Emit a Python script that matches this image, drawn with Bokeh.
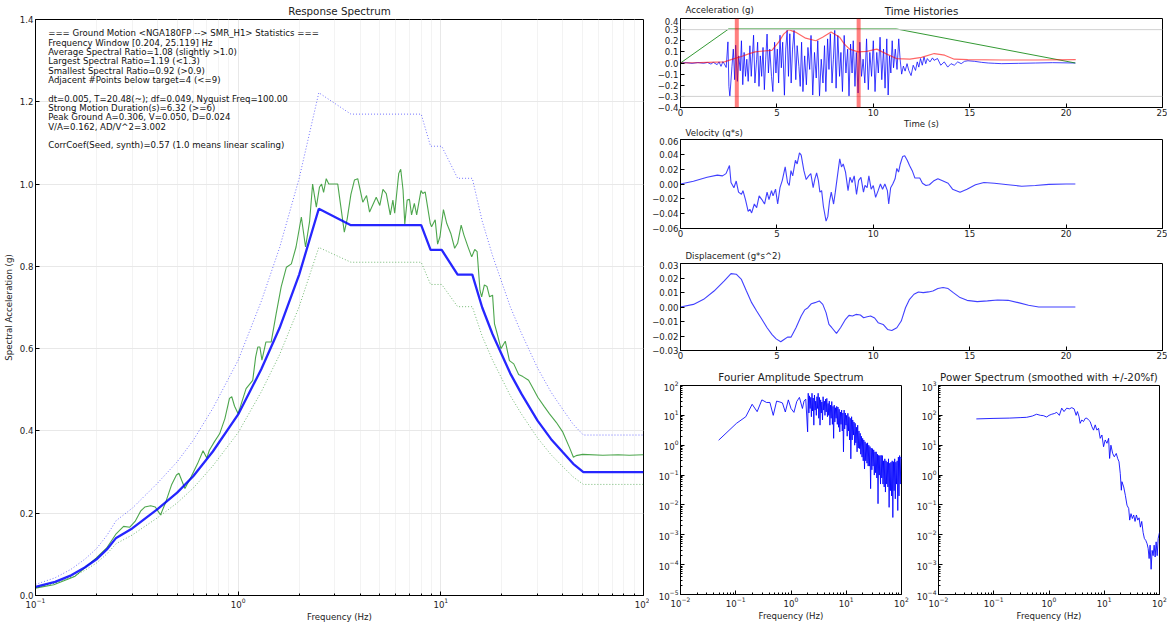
from bokeh.plotting import figure
from bokeh.layouts import row, column
from bokeh.models import Label, Span, FixedTicker, CustomJSTickFormatter, Range1d, LogTickFormatter
from bokeh.embed import file_html
from bokeh.resources import INLINE

FONT = "DejaVu Sans"
TXT = "8.6px"
TTL = "10.3px"

# ---------------- Response spectrum data ----------------
tgt_f = [0.1, 0.125, 0.15, 0.175, 0.2, 0.225, 0.25, 0.3, 0.4, 0.5, 0.6, 0.75, 1.0, 1.3, 1.6, 2.0, 2.5,
         3.6, 8.0, 8.9, 10.1, 12.1, 14.3, 16.0, 18.0, 20.0, 22.0, 25.0, 30.0, 35.0, 40.0, 45.0, 50.5, 100.0]
tgt_sa = [0.021, 0.033, 0.049, 0.068, 0.088, 0.112, 0.14, 0.163, 0.21, 0.25, 0.29, 0.35, 0.44, 0.55, 0.65, 0.78, 0.94,
          0.90, 0.90, 0.84, 0.84, 0.78, 0.78, 0.70, 0.635, 0.585, 0.54, 0.49, 0.425, 0.38, 0.348, 0.32, 0.30, 0.30]
upper_sa = [0.027, 0.043, 0.064, 0.088, 0.114, 0.146, 0.182, 0.212, 0.273, 0.325, 0.377, 0.455, 0.572, 0.715, 0.845,
            1.014, 1.222, 1.17, 1.17, 1.092, 1.092, 1.014, 1.014, 0.91, 0.826, 0.761, 0.702, 0.637, 0.553, 0.494,
            0.452, 0.416, 0.39, 0.39]
lower_sa = [0.019, 0.030, 0.044, 0.061, 0.079, 0.101, 0.126, 0.147, 0.189, 0.225, 0.261, 0.315, 0.396, 0.495, 0.585,
            0.702, 0.846, 0.81, 0.81, 0.756, 0.756, 0.702, 0.702, 0.63, 0.572, 0.527, 0.486, 0.441, 0.383, 0.342,
            0.313, 0.288, 0.27, 0.27]

syn_f = [0.1, 0.123, 0.156, 0.199, 0.224, 0.25, 0.272, 0.292, 0.31, 0.33,
         0.346, 0.37, 0.39, 0.414, 0.44, 0.47, 0.496, 0.51, 0.546, 0.587,
         0.63, 0.671, 0.70, 0.721, 0.764, 0.81, 0.86, 0.906, 0.93, 0.96,
         1.0, 1.094, 1.18, 1.22, 1.25, 1.28, 1.31, 1.37, 1.455, 1.54,
         1.63, 1.73, 1.83, 1.93, 2.05, 2.15, 2.25, 2.33, 2.43, 2.52,
         2.58, 2.64, 2.72, 2.8, 3.1, 3.2, 3.34, 3.45, 3.6, 3.75,
         3.89, 4.12, 4.3, 4.45, 4.8, 5.0, 5.18, 5.38, 5.63, 5.8,
         5.92, 6.2, 6.34, 6.51, 6.64, 6.82, 7.0, 7.17, 7.4, 7.6,
         7.98, 8.15, 8.37, 8.87, 9.0, 9.38, 9.64, 9.9, 10.3, 10.7,
         11.2, 11.7, 12.1, 12.6, 13.0, 13.6, 14.2, 14.7, 15.1, 15.6,
         15.9, 16.4, 16.9, 17.4, 18.0, 18.4, 19.0, 19.8, 20.8, 21.8,
         22.9, 24.2, 25.4, 27.1, 28.4, 30.1, 32.4, 34.3, 37.1, 40.0,
         43.1, 45.1, 46.5, 50.1, 63.0, 75.0, 85.0, 100.0]
syn_sa = [0.018, 0.026, 0.046, 0.091, 0.115, 0.150, 0.168, 0.166, 0.18, 0.205,
          0.215, 0.218, 0.215, 0.196, 0.228, 0.27, 0.293, 0.297, 0.26, 0.289,
          0.32, 0.352, 0.334, 0.353, 0.374, 0.393, 0.43, 0.479, 0.483, 0.46,
          0.442, 0.503, 0.523, 0.58, 0.604, 0.604, 0.572, 0.616, 0.616, 0.685,
          0.75, 0.798, 0.806, 0.847, 0.92, 0.847, 0.908, 1.0, 0.944, 0.993,
          1.0, 0.98, 1.013, 1.0, 1.0, 0.95, 0.883, 0.915, 0.975, 1.01,
          1.013, 0.956, 0.972, 0.932, 0.968, 0.948, 0.987, 0.977, 0.925, 0.961,
          0.929, 1.026, 1.036, 0.985, 0.903, 0.961, 0.963, 0.925, 0.953, 0.925,
          0.984, 0.977, 0.981, 0.904, 0.896, 0.913, 0.854, 0.872, 0.938, 0.904,
          0.88, 0.844, 0.856, 0.9, 0.876, 0.848, 0.823, 0.841, 0.836, 0.742,
          0.726, 0.755, 0.751, 0.726, 0.73, 0.66, 0.635, 0.60, 0.618, 0.571,
          0.563, 0.537, 0.532, 0.523, 0.505, 0.482, 0.459, 0.442, 0.421, 0.397,
          0.360, 0.336, 0.340, 0.343, 0.341, 0.342, 0.341, 0.342]

stats_lines = [
    "=== Ground Motion <NGA180FP --> SMR_H1> Statistics ===",
    "Frequency Window [0.204, 25.119] Hz",
    "Average Spectral Ratio=1.08 (slightly >1.0)",
    "Largest Spectral Ratio=1.19 (<1.3)",
    "Smallest Spectral Ratio=0.92 (>0.9)",
    "Adjacent #Points below target=4 (<=9)",
    "",
    "dt=0.005, T=20.48(~); df=0.049, Nyquist Freq=100.00",
    "Strong Motion Duration(s)=6.32 (>=6)",
    "Peak Ground A=0.306, V=0.050, D=0.024",
    "V/A=0.162, AD/V^2=3.002",
    "",
    "CorrCoef(Seed, synth)=0.57 (1.0 means linear scaling)",
]

# ---------------- Time histories ----------------
acc_t = [0.0, 0.3, 0.6, 0.9, 1.2, 1.4, 1.58, 1.7, 1.9, 2.0,
         2.1, 2.2, 2.28, 2.37, 2.46, 2.51, 2.56, 2.67, 2.74, 2.81,
         2.86, 2.95, 3.02, 3.1, 3.16, 3.23, 3.3, 3.37, 3.44, 3.51,
         3.6, 3.67, 3.74, 3.79, 3.86, 3.95, 4.0, 4.07, 4.14, 4.21,
         4.28, 4.35, 4.42, 4.49, 4.56, 4.63, 4.72, 4.79, 4.88, 4.95,
         5.02, 5.09, 5.16, 5.23, 5.3, 5.39, 5.46, 5.53, 5.6, 5.67,
         5.74, 5.81, 5.89, 5.98, 6.05, 6.14, 6.21, 6.28, 6.35, 6.44,
         6.53, 6.61, 6.7, 6.77, 6.86, 6.95, 7.04, 7.12, 7.21, 7.3,
         7.39, 7.47, 7.54, 7.63, 7.7, 7.77, 7.86, 7.93, 8.0, 8.07,
         8.16, 8.25, 8.32, 8.4, 8.49, 8.58, 8.67, 8.74, 8.82, 8.9,
         8.96, 9.05, 9.12, 9.21, 9.3, 9.39, 9.47, 9.56, 9.65, 9.74,
         9.82, 9.91, 10.0, 10.09, 10.18, 10.26, 10.35, 10.44, 10.53, 10.61,
         10.7, 10.77, 10.84, 10.91, 10.98, 11.05, 11.14, 11.23, 11.32, 11.39,
         11.47, 11.56, 11.65, 11.75, 11.84, 11.96, 12.07, 12.19, 12.28, 12.36,
         12.45, 12.54, 12.63, 12.72, 12.8, 12.94, 13.07, 13.15, 13.33, 13.5,
         13.68, 13.86, 14.03, 14.2, 14.38, 14.56, 14.73, 14.91, 15.26, 15.61,
         15.96, 16.3, 16.66, 17.54, 18.42, 19.3, 20.48]
acc_a = [0.0, 0.003, -0.003, 0.004, -0.002, 0.005, -0.01, 0.006, -0.015, 0.01,
         -0.03, 0.012, -0.01, -0.04, 0.19, -0.21, -0.30, -0.03, 0.125, -0.15,
         0.16, -0.165, 0.064, -0.07, 0.2, -0.195, 0.095, -0.12, 0.034, -0.165,
         0.155, -0.12, 0.095, 0.25, -0.18, 0.034, 0.187, -0.21, 0.064, -0.12,
         0.14, -0.24, 0.034, 0.26, -0.09, 0.125, -0.12, -0.257, 0.187, -0.09,
         0.125, -0.18, 0.25, -0.043, 0.187, -0.29, 0.125, 0.294, -0.12, 0.263,
         -0.18, 0.125, 0.294, -0.15, 0.156, -0.03, -0.21, 0.187, -0.257, 0.064,
         -0.196, 0.14, -0.058, 0.248, -0.288, 0.095, -0.135, 0.2, -0.3, 0.034,
         -0.18, 0.156, -0.257, 0.217, -0.058, 0.263, -0.18, 0.034, 0.294, -0.226,
         0.248, -0.12, 0.095, -0.257, 0.248, -0.09, 0.125, -0.3, 0.17, -0.09,
         0.2, -0.21, 0.095, -0.27, 0.187, -0.12, 0.034, -0.18, 0.217, -0.24,
         0.095, -0.12, 0.2, -0.257, 0.095, -0.09, 0.232, -0.15, 0.125, -0.226,
         0.217, -0.288, 0.064, -0.09, 0.2, -0.043, 0.125, -0.058, 0.217, 0.034,
         -0.1, -0.028, -0.073, -0.006, -0.067, -0.113, -0.02, -0.067, 0.01, -0.037,
         0.04, -0.02, 0.055, -0.006, 0.04, 0.01, 0.046, 0.024, 0.04, -0.02,
         0.01, -0.037, -0.006, -0.02, 0.01, -0.006, 0.015, 0.02, 0.015, 0.006,
         0.0, -0.003, -0.006, -0.003, 0.0, 0.003, 0.0]

env_t = [0.0, 2.5, 11.2, 20.48]
env_a = [0.0, 0.306, 0.306, 0.0]

ria_t = [0.0, 1.0, 2.28, 2.7, 3.16, 3.5, 3.86, 4.3, 4.74, 5.09, 5.35, 5.61, 5.96, 6.49, 7.02, 7.37, 7.81,
         8.25, 8.5, 8.77, 9.21, 9.65, 10.18, 10.7, 11.2, 11.9, 12.5, 13.16, 13.7, 14.2, 14.9, 16.7, 18.4, 20.5]
ria_a = [0.0, 0.004, 0.01, 0.035, 0.058, 0.08, 0.10, 0.108, 0.113, 0.187, 0.26, 0.30, 0.278, 0.223, 0.20, 0.232,
         0.278, 0.232, 0.17, 0.125, 0.10, 0.104, 0.125, 0.08, 0.04, 0.034, 0.05, 0.085, 0.07, 0.034, 0.03, 0.027,
         0.027, 0.03]

sm_start = 2.92
sm_end = 9.24
pga = 0.30

vel_t = [0.0, 0.67, 1.38, 1.91, 2.18, 2.36, 2.54, 2.62, 2.77, 2.89,
         3.01, 3.16, 3.24, 3.37, 3.51, 3.6, 3.69, 3.83, 3.95, 4.08,
         4.22, 4.36, 4.49, 4.59, 4.72, 4.8, 4.93, 5.04, 5.16, 5.28,
         5.43, 5.55, 5.64, 5.73, 5.82, 5.96, 6.05, 6.17, 6.26, 6.4,
         6.52, 6.65, 6.76, 6.88, 6.97, 7.06, 7.15, 7.23, 7.32, 7.41,
         7.55, 7.64, 7.73, 7.82, 7.94, 8.03, 8.12, 8.26, 8.35, 8.44,
         8.56, 8.69, 8.79, 8.9, 9.01, 9.13, 9.24, 9.36, 9.49, 9.57,
         9.68, 9.77, 9.89, 10.0, 10.12, 10.25, 10.37, 10.48, 10.6, 10.73,
         10.8, 10.9, 11.01, 11.13, 11.22, 11.31, 11.4, 11.52, 11.63, 11.76,
         11.88, 12.02, 12.16, 12.41, 12.55, 12.73, 12.91, 13.12, 13.35, 13.62,
         13.88, 14.11, 14.5, 14.86, 15.3, 15.74, 16.28, 16.99, 17.7, 18.4,
         19.11, 20.0, 20.48]
vel_v = [0.0, 0.0037, 0.009, 0.012, 0.011, 0.014, 0.025, 0.002, -0.005, 0.004,
         -0.011, -0.014, -0.009, -0.021, -0.037, -0.034, -0.039, -0.027, -0.032, -0.016,
         -0.021, -0.027, -0.011, -0.021, -0.009, -0.016, -0.007, -0.027, -0.005, 0.005,
         0.023, 0.002, -0.002, 0.018, 0.011, 0.032, 0.027, 0.042, 0.039, 0.018,
         0.006, 0.011, 0.014, -0.005, 0.007, 0.015, 0.005, -0.011, -0.009, -0.03,
         -0.05, -0.044, -0.023, -0.011, -0.027, -0.011, 0.007, 0.034, 0.023, 0.027,
         0.016, -0.009, 0.009, 0.002, 0.011, -0.014, 0.005, 0.009, -0.011, -0.002,
         -0.005, 0.011, -0.007, -0.002, -0.018, -0.009, 0.0, -0.007, 0.0, -0.009,
         -0.027, -0.005, 0.0, 0.007, 0.021, 0.016, 0.027, 0.037, 0.038, 0.032,
         0.025, 0.018, 0.008, 0.008, 0.001, -0.002, -0.001, 0.004, 0.007, 0.004,
         0.001, -0.007, -0.011, -0.007, -0.001, 0.002, 0.001, -0.001, -0.003, -0.002,
         -0.0005, 0.0, 0.0]

dis_t = [0.0, 0.67, 1.2, 1.74, 2.27, 2.62, 2.89, 3.16, 3.42, 3.69,
         3.95, 4.22, 4.49, 4.75, 4.96, 5.2, 5.37, 5.55, 5.73, 5.99,
         6.26, 6.44, 6.61, 6.79, 6.97, 7.2, 7.38, 7.55, 7.7, 7.85,
         8.09, 8.3, 8.56, 8.74, 8.92, 9.1, 9.33, 9.5, 9.68, 9.86,
         10.07, 10.25, 10.51, 10.74, 10.96, 11.22, 11.45, 11.67, 11.88, 12.11,
         12.34, 12.59, 12.87, 13.09, 13.35, 13.62, 13.88, 14.15, 14.5, 14.86,
         15.39, 15.92, 16.45, 16.99, 17.52, 18.05, 18.58, 19.47, 20.48]
dis_d = [0.0, 0.0018, 0.0053, 0.011, 0.018, 0.023, 0.0226, 0.019, 0.011, 0.003,
         -0.0028, -0.0085, -0.0143, -0.019, -0.022, -0.024, -0.0224, -0.0208, -0.0208, -0.0143,
         -0.0062, -0.002, -0.0005, 0.0023, 0.003, 0.0042, 0.0018, -0.0039, -0.012, -0.0143,
         -0.0182, -0.0143, -0.0085, -0.0058, -0.0062, -0.0051, -0.0055, -0.0074, -0.0067, -0.0062,
         -0.0076, -0.0108, -0.012, -0.0155, -0.0162, -0.0143, -0.0097, -0.0005, 0.0053, 0.0088,
         0.0104, 0.0099, 0.0104, 0.011, 0.0127, 0.0134, 0.0127, 0.0099, 0.0065, 0.0046,
         0.0037, 0.0042, 0.0048, 0.0046, 0.003, 0.0012, 0.0, 0.0, 0.0]

# ---------------- Fourier amplitude spectrum ----------------
fa_f = [0.049, 0.103, 0.152, 0.198, 0.244, 0.297, 0.361, 0.415, 0.477, 0.549,
        0.63, 0.70, 0.789, 0.895, 1.0, 1.13, 1.27, 1.42, 1.61, 1.72, 1.85,
        2.00, 2.05, 2.11, 2.16, 2.22, 2.28, 2.34, 2.40, 2.46, 2.52,
        2.59, 2.66, 2.73, 2.80, 2.87, 2.95, 3.02, 3.10, 3.18, 3.27,
        3.35, 3.44, 3.53, 3.62, 3.72, 3.81, 3.91, 4.02, 4.12, 4.23,
        4.34, 4.45, 4.57, 4.69, 4.81, 4.93, 5.06, 5.19, 5.33, 5.47,
        5.61, 5.76, 5.91, 6.06, 6.22, 6.38, 6.55, 6.72, 6.89, 7.07,
        7.26, 7.45, 7.64, 7.84, 8.04, 8.25, 8.47, 8.69, 8.91, 9.15,
        9.38, 9.63, 9.88, 10.1, 10.4, 10.7, 11.0, 11.2, 11.5, 11.8,
        12.1, 12.5, 12.8, 13.1, 13.5, 13.8, 14.2, 14.5, 14.9, 15.3,
        15.7, 16.1, 16.5, 17.0, 17.4, 17.9, 18.3, 18.8, 19.3, 19.8,
        20.3, 20.8, 21.4, 21.9, 22.5, 23.1, 23.7, 24.3, 24.9, 25.6,
        26.2, 26.9, 27.6, 28.3, 29.1, 29.8, 30.6, 31.4, 32.2, 33.1,
        33.9, 34.8, 35.7, 36.7, 37.6, 38.6, 39.6, 40.6, 41.7, 42.8,
        43.9, 45.0, 46.2, 47.4, 48.6, 49.9, 51.2, 52.5, 53.9, 55.3,
        56.7, 58.2, 59.7, 61.3, 62.9, 64.5, 66.2, 67.9, 69.7, 71.5,
        73.4, 75.3, 77.2, 79.2, 81.3, 83.4, 85.6, 87.8, 90.1, 92.5,
        94.9, 97.4, 100.0]
fa_amp = [1.47, 5.4, 9, 23.5, 13.3, 33, 27, 27, 10, 30,
          28, 26, 13, 33, 17, 12.6, 29, 40, 17, 30, 35,
          2.8, 55, 12, 45, 17, 40, 9, 55, 14, 38,
          4.7, 48, 15, 30, 10, 42, 17, 55, 8, 40,
          4.7, 33, 12, 28, 7, 42, 15, 30, 10, 35,
          13, 37, 9, 25, 10, 30, 4.7, 22, 8, 29,
          5, 20, 1.7, 22, 6, 18, 8, 20, 5, 19,
          4, 16, 2.8, 13, 5, 15, 3, 12, 0.6, 15,
          3.5, 12, 4.7, 10, 2, 11.7, 3, 9, 1.5, 8,
          0.35, 9, 1.5, 7, 2.2, 6, 1, 5.4, 1.2, 4,
          0.6, 4.7, 0.8, 3, 0.77, 2.5, 0.5, 2, 0.4, 1.7,
          0.3, 1.5, 0.16, 1.3, 0.3, 1.14, 0.25, 1.2, 0.2, 1.0,
          0.2, 0.9, 0.035, 0.8, 0.15, 0.77, 0.2, 0.7, 0.1, 0.6,
          0.12, 0.6, 0.08, 0.5, 0.011, 0.46, 0.1, 0.45, 0.05, 0.46,
          0.08, 0.45, 0.05, 0.3, 0.04, 0.35, 0.027, 0.3, 0.05, 0.27,
          0.04, 0.35, 0.0083, 0.25, 0.03, 0.27, 0.02, 0.3, 0.0038, 0.28,
          0.03, 0.35, 0.016, 0.27, 0.05, 0.3, 0.0065, 0.4, 0.02, 0.45,
          0.05, 0.4, 0.35]

# ---------------- Power spectrum ----------------
ps_f = [0.0484, 0.097, 0.195, 0.3, 0.393, 0.5, 0.597, 0.7, 0.789, 0.908,
        1.0, 1.12, 1.25, 1.38, 1.54, 1.70, 1.87, 2.09, 2.34, 2.58,
        2.85, 3.1, 3.27, 3.5, 3.66, 3.93, 4.21, 4.52, 4.84, 5.19,
        5.56, 5.97, 6.4, 6.86, 7.36, 7.88, 8.45, 9.07, 9.72, 10.4,
        11.2, 12.0, 12.5, 13.2, 14.2, 15.2, 16.5, 17.5, 18.5, 19.5,
        20.4, 20.9, 22.5, 24.1, 25.8, 27.7, 28.9, 30.5, 32.3, 34.1,
        36.1, 38.2, 40.4, 42.7, 45.1, 47.7, 50.5, 53.3, 56.4, 59.7,
        62.3, 64.9, 67.6, 70.5, 73.5, 76.7, 80.0, 83.4, 86.9, 90.7,
        94.6, 100.0]
ps_pow = [76, 79, 81, 84, 86, 95, 109, 100, 98, 88,
          100, 109, 115, 126, 100, 174, 134, 174, 165, 181,
          165, 100, 134, 90, 54, 70, 62, 79, 81, 70,
          62, 42, 32, 48, 32, 37, 17, 22, 8.9, 15,
          11.6, 17, 3.6, 10, 5.3, 4.1, 5.3, 3.6, 2.8, 1.13,
          0.31, 0.6, 0.4, 0.21, 0.098, 0.076, 0.031, 0.051, 0.035, 0.046,
          0.028, 0.046, 0.031, 0.037, 0.018, 0.028, 0.012, 0.0075, 0.0065, 0.005,
          0.0035, 0.0016, 0.0045, 0.0007, 0.003, 0.002, 0.0045, 0.0018, 0.0058, 0.002,
          0.0075, 0.012]

SIGNED1 = CustomJSTickFormatter(code="return tick.toFixed(1).replace('-', '\u2212')")
SIGNED2 = CustomJSTickFormatter(code="return tick.toFixed(2).replace('-', '\u2212')")
RIGHT_W = 518


def make(fw, fh, l, r, t, b, **kw):
    p = figure(frame_width=fw, frame_height=fh, min_border_left=l, min_border_right=r,
               min_border_top=t, min_border_bottom=b, output_backend="svg",
               toolbar_location=None, **kw)
    p.outline_line_color = "black"
    p.outline_line_width = 1
    p.background_fill_color = "white"
    p.border_fill_color = "white"
    p.grid.grid_line_color = None
    for ax in list(p.xaxis) + list(p.yaxis):
        ax.axis_line_color = "black"
        ax.major_tick_in = 4
        ax.major_tick_out = 0
        ax.minor_tick_in = 2
        ax.minor_tick_out = 0
        ax.major_tick_line_color = "black"
        ax.minor_tick_line_color = "black"
        ax.major_label_text_font = FONT
        ax.major_label_text_font_size = TXT
        ax.major_label_text_color = "#222222"
        ax.major_label_standoff = 2
        ax.axis_label_text_font = FONT
        ax.axis_label_text_font_size = TXT
        ax.axis_label_text_font_style = "normal"
        ax.axis_label_text_color = "#222222"
        ax.axis_label_standoff = 1
    if p.title is not None:
        p.title.text_font = FONT
        p.title.text_font_size = TTL
        p.title.text_font_style = "normal"
        p.title.text_color = "#222222"
        p.title.align = "center"
        p.title.standoff = 2
    return p


def strip(h, texts):
    """A bare text band whose frame lines up with the time-history frames.
    texts = (page-x offset from the column's left edge, y px from the band's top, text, size, align)."""
    s = figure(width=RIGHT_W, height=h, x_range=Range1d(31, 513), y_range=Range1d(0, h),
               x_axis_location=None, y_axis_location=None, min_border=0,
               output_backend="svg", toolbar_location=None)
    s.outline_line_color = None
    s.grid.grid_line_color = None
    s.background_fill_color = "white"
    s.border_fill_color = "white"
    for x, y, t, size, align in texts:
        s.add_layout(Label(x=x, y=h - y, text=t, text_font=FONT, text_font_size=size,
                           text_color="#222222", text_baseline="middle", text_align=align))
    return s


def decade_minor(lo, hi):
    out = []
    e = lo
    while e < hi:
        for k in range(2, 10):
            out.append(k * 10.0 ** e)
        e += 1
    return out


def time_axis(p):
    p.xaxis.ticker = FixedTicker(ticks=[0, 5, 10, 15, 20, 25], minor_ticks=[])
    p.xaxis.major_label_standoff = 1


# ---------------- Left: response spectrum ----------------
left = make(608, 576, 28, 6, 19, 20, title="Response Spectrum", x_axis_type="log",
            x_range=Range1d(0.1, 100), y_range=Range1d(0, 1.4))
left.title.standoff = 5
left.xaxis.ticker = FixedTicker(ticks=[0.1, 1, 10, 100], minor_ticks=decade_minor(-1, 2))
left.xaxis.formatter = LogTickFormatter()
left.yaxis.ticker = FixedTicker(ticks=[0.0, 0.2, 0.4, 0.6, 0.8, 1.0, 1.2, 1.4], minor_ticks=[])
left.yaxis.formatter = SIGNED1
left.xaxis.axis_label = "Frequency (Hz)"
left.yaxis.axis_label = "Spectral Acceleration (g)"
left.yaxis.axis_label_standoff = 3
left.xgrid.grid_line_color = "#e8e8e8"
left.xgrid.minor_grid_line_color = "#f3f3f3"
left.ygrid.grid_line_color = "#e8e8e8"

left.line(tgt_f, upper_sa, line_color="blue", line_alpha=0.55, line_width=1, line_dash="1 2")
left.line(tgt_f, lower_sa, line_color="green", line_alpha=0.55, line_width=1, line_dash="1 2")
left.line(syn_f, syn_sa, line_color="green", line_alpha=0.7, line_width=1.1)
left.line(tgt_f, tgt_sa, line_color="blue", line_alpha=0.85, line_width=2.3)

for i, s in enumerate(stats_lines):
    if s:
        left.add_layout(Label(x=0.1155, y=1.366 - i * 0.02268, text=s, text_font=FONT,
                              text_font_size=TXT, text_color="#111111",
                              text_baseline="middle", text_align="left"))

# ---------------- Time histories column ----------------
head = strip(17, [(36, 9.5, "Acceleration (g)", TXT, "left"),
                  (272, 10.5, "Time Histories", TTL, "center")])

acc = make(482, 89, 31, 5, 1, 12, x_range=Range1d(0, 25), y_range=Range1d(-0.4, 0.4))
time_axis(acc)
acc.yaxis.ticker = FixedTicker(ticks=[-0.4, -0.3, -0.2, -0.1, 0.0, 0.1, 0.2, 0.3, 0.4], minor_ticks=[])
acc.yaxis.formatter = SIGNED1
for lv in (pga, -pga):
    acc.add_layout(Span(location=lv, dimension="width", line_color="#d0d0d0", line_width=1))
acc.line(acc_t, acc_a, line_color="blue", line_alpha=0.75, line_width=1)
acc.line(env_t, env_a, line_color="green", line_alpha=0.8, line_width=1)
acc.line(ria_t, ria_a, line_color="red", line_alpha=0.6, line_width=1.2)
for tv in (sm_start, sm_end):
    acc.add_layout(Span(location=tv, dimension="height", line_color="red", line_alpha=0.5, line_width=4))

mid1 = strip(18, [(272, 4.5, "Time (s)", TXT, "center"),
                  (36, 13, "Velocity (g*s)", TXT, "left")])

vel = make(482, 89, 31, 5, 2, 12, x_range=Range1d(0, 25), y_range=Range1d(-0.06, 0.06))
time_axis(vel)
vel.yaxis.ticker = FixedTicker(ticks=[-0.06, -0.04, -0.02, 0.0, 0.02, 0.04, 0.06], minor_ticks=[])
vel.yaxis.formatter = SIGNED2
vel.line(vel_t, vel_v, line_color="blue", line_alpha=0.75, line_width=1.1)

mid2 = strip(21, [(36, 15, "Displacement (g*s^2)", TXT, "left")])

dis = make(482, 87, 31, 5, 2, 12, x_range=Range1d(0, 25), y_range=Range1d(-0.03, 0.03))
time_axis(dis)
dis.yaxis.ticker = FixedTicker(ticks=[-0.03, -0.02, -0.01, 0.0, 0.01, 0.02, 0.03], minor_ticks=[])
dis.yaxis.formatter = SIGNED2
dis.line(dis_t, dis_d, line_color="blue", line_alpha=0.75, line_width=1.1)

# ---------------- Fourier amplitude ----------------
fas = make(221, 209, 31, 10, 23, 20, title="Fourier Amplitude Spectrum", x_axis_type="log",
           y_axis_type="log", x_range=Range1d(0.01, 100), y_range=Range1d(1e-5, 1e2))
fas.title.standoff = 6
fas.xaxis.ticker = FixedTicker(ticks=[0.01, 0.1, 1, 10, 100], minor_ticks=decade_minor(-2, 2))
fas.yaxis.ticker = FixedTicker(ticks=[1e-5, 1e-4, 1e-3, 1e-2, 1e-1, 1, 10, 100], minor_ticks=decade_minor(-5, 2))
fas.xaxis.formatter = LogTickFormatter()
fas.yaxis.formatter = LogTickFormatter()
fas.xaxis.axis_label = "Frequency (Hz)"
fas.line(fa_f, fa_amp, line_color="blue", line_alpha=0.85, line_width=1)

# ---------------- Power spectrum ----------------
pws = make(221, 209, 27, 8, 23, 20, title="Power Spectrum (smoothed with +/-20%f)", x_axis_type="log",
           y_axis_type="log", x_range=Range1d(0.01, 100), y_range=Range1d(1e-4, 1e3))
pws.title.standoff = 6
pws.xaxis.ticker = FixedTicker(ticks=[0.01, 0.1, 1, 10, 100], minor_ticks=decade_minor(-2, 2))
pws.yaxis.ticker = FixedTicker(ticks=[1e-4, 1e-3, 1e-2, 1e-1, 1, 10, 100, 1000], minor_ticks=decade_minor(-4, 3))
pws.xaxis.formatter = LogTickFormatter()
pws.yaxis.formatter = LogTickFormatter()
pws.xaxis.axis_label = "Frequency (Hz)"
pws.line(ps_f, ps_pow, line_color="blue", line_alpha=0.85, line_width=1)

layout = row(left, column(head, acc, mid1, vel, mid2, dis, row(fas, pws)))

open("out.html", "w").write(file_html(layout, INLINE))
